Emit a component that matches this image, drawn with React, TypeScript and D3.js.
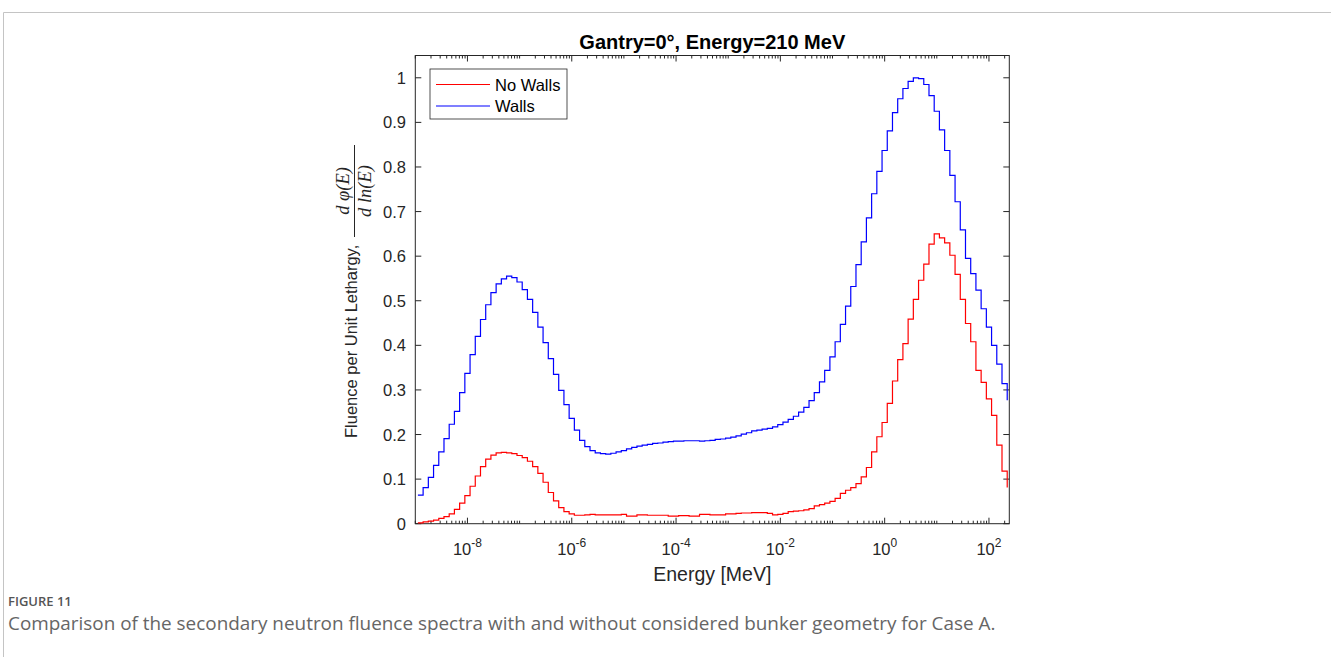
import React from "react";
import * as d3 from "d3";

// Bin edges: log10(E/MeV) starts at -8.95, 0.1 decade per bin (stairs plot)
const binStartLog = -8.95;
const binWidthLog = 0.1;

const noWalls = [
  0.002, 0.004, 0.006, 0.008, 0.012, 0.016, 0.022, 0.032, 0.046, 0.063,
  0.084, 0.107, 0.128, 0.145, 0.154, 0.159, 0.160, 0.159, 0.157, 0.153,
  0.148, 0.140, 0.128, 0.113, 0.093, 0.070, 0.051, 0.036, 0.027, 0.022,
  0.019, 0.019, 0.020, 0.021, 0.020, 0.020, 0.020, 0.020, 0.020, 0.021,
  0.017, 0.017, 0.020, 0.020, 0.019, 0.019, 0.019, 0.019, 0.017, 0.017,
  0.018, 0.018, 0.017, 0.017, 0.021, 0.021, 0.020, 0.020, 0.020, 0.022,
  0.022, 0.023, 0.024, 0.024, 0.025, 0.025, 0.025, 0.023, 0.020, 0.021,
  0.023, 0.027, 0.028, 0.029, 0.031, 0.034, 0.040, 0.043, 0.046, 0.050,
  0.057, 0.068, 0.075, 0.081, 0.090, 0.105, 0.126, 0.161, 0.195, 0.227,
  0.270, 0.320, 0.368, 0.404, 0.459, 0.503, 0.546, 0.582, 0.627, 0.650,
  0.641, 0.630, 0.602, 0.559, 0.503, 0.449, 0.408, 0.344, 0.317, 0.280,
  0.243, 0.176, 0.118, 0.081,
];

const walls = [
  0.064, 0.081, 0.104, 0.131, 0.161, 0.191, 0.223, 0.252, 0.294, 0.337,
  0.379, 0.420, 0.458, 0.491, 0.518, 0.538, 0.549, 0.555, 0.552, 0.542,
  0.525, 0.503, 0.474, 0.441, 0.406, 0.370, 0.335, 0.299, 0.267, 0.236,
  0.210, 0.187, 0.173, 0.164, 0.159, 0.157, 0.156, 0.158, 0.161, 0.164,
  0.168, 0.171, 0.174, 0.176, 0.178, 0.180, 0.181, 0.183, 0.184, 0.185,
  0.185, 0.186, 0.186, 0.186, 0.185, 0.186, 0.187, 0.189, 0.190, 0.192,
  0.194, 0.197, 0.201, 0.204, 0.208, 0.210, 0.212, 0.214, 0.217, 0.222,
  0.228, 0.234, 0.241, 0.250, 0.261, 0.276, 0.294, 0.318, 0.344, 0.374,
  0.408, 0.447, 0.488, 0.532, 0.581, 0.632, 0.686, 0.740, 0.790, 0.837,
  0.881, 0.922, 0.953, 0.976, 0.992, 1.000, 0.998, 0.985, 0.960, 0.925,
  0.883, 0.837, 0.781, 0.722, 0.659, 0.595, 0.561, 0.524, 0.482, 0.441,
  0.400, 0.358, 0.314, 0.277,
];

const yTicks = [0, 0.1, 0.2, 0.3, 0.4, 0.5, 0.6, 0.7, 0.8, 0.9, 1];
const yTickLabels = ["0", "0.1", "0.2", "0.3", "0.4", "0.5", "0.6", "0.7", "0.8", "0.9", "1"];
const xMajorExponents = [-8, -6, -4, -2, 0, 2];
const xDomainLog = [-9, 2.39];

const seriesNames = ["No Walls", "Walls"];
const seriesColors = ["#ff0000", "#0000ff"];

const title = "Gantry=0°, Energy=210 MeV";
const xLabel = "Energy [MeV]";
const yLabelText = "Fluence per Unit Lethargy,";
const figLabel = "FIGURE 11";
const caption =
  "Comparison of the secondary neutron fluence spectra with and without considered bunker geometry for Case A.";

const W = 1331;
const H = 657;
const L = 415.3, R = 1009.3, T = 55.5, B = 523.7;
const axisColor = "#262626";
const sans = "'Liberation Sans', Arial, Helvetica, sans-serif";
const serif = "'Liberation Serif', 'DejaVu Serif', serif";
const capFont = "'Open Sans', 'Noto Sans', sans-serif";

export default function App() {
  const x = d3
    .scaleLog()
    .domain([Math.pow(10, xDomainLog[0]), Math.pow(10, xDomainLog[1])])
    .range([L, R]);
  const y = d3.scaleLinear().domain([0, 1.05]).range([B, T]);

  const energies = noWalls.map((_, i) => Math.pow(10, binStartLog + binWidthLog * i));
  const line = d3
    .line<number>()
    .x((_, i) => x(energies[i]))
    .y((d) => y(d))
    .curve(d3.curveStepAfter);

  const series = [noWalls, walls];

  const minorTicks: number[] = [];
  for (let k = Math.floor(xDomainLog[0]); k <= Math.ceil(xDomainLog[1]); k++) {
    for (let m = 1; m <= 9; m++) {
      const v = m * Math.pow(10, k);
      const lv = Math.log10(v);
      if (lv < xDomainLog[0] - 1e-9 || lv > xDomainLog[1]) continue;
      if (m === 1 && xMajorExponents.includes(k)) continue;
      minorTicks.push(v);
    }
  }

  const yLabelBase = 357;
  const fracCenter = 191;

  return (
    <svg
      width={W}
      height={H}
      style={{ display: "block", position: "absolute", left: 0, top: 0 }}
    >
      <rect x={0} y={0} width={W} height={H} fill="#ffffff" />
      {/* outer frame */}
      <path d={`M3.5,12.5 H${W} M3.5,12.5 V${H}`} stroke="#c4c4c4" strokeWidth={1} fill="none" />

      {/* title */}
      <text x={(L + R) / 2} y={49} textAnchor="middle" fontFamily={sans} fontWeight="bold" fontSize={20} fill="#000">
        {title}
      </text>

      {/* axes box */}
      <rect x={L} y={T} width={R - L} height={B - T} fill="none" stroke={axisColor} strokeWidth={1} />

      {/* y ticks */}
      {yTicks.map((t, i) => (
        <g key={"yt" + i}>
          <line x1={L} x2={L + 6} y1={y(t)} y2={y(t)} stroke={axisColor} strokeWidth={1} />
          <line x1={R} x2={R - 6} y1={y(t)} y2={y(t)} stroke={axisColor} strokeWidth={1} />
          <text x={406} y={y(t) + 6} textAnchor="end" fontFamily={sans} fontSize={16.5} fill={axisColor}>
            {yTickLabels[i]}
          </text>
        </g>
      ))}

      {/* x minor ticks */}
      {minorTicks.map((v, i) => (
        <g key={"xm" + i}>
          <line x1={x(v)} x2={x(v)} y1={B} y2={B - 3} stroke={axisColor} strokeWidth={1} />
          <line x1={x(v)} x2={x(v)} y1={T} y2={T + 3} stroke={axisColor} strokeWidth={1} />
        </g>
      ))}
      {/* x major ticks */}
      {xMajorExponents.map((k) => {
        const px = x(Math.pow(10, k));
        return (
          <g key={"xM" + k}>
            <line x1={px} x2={px} y1={B} y2={B - 6} stroke={axisColor} strokeWidth={1} />
            <line x1={px} x2={px} y1={T} y2={T + 6} stroke={axisColor} strokeWidth={1} />
            <text x={px} y={555} textAnchor="middle" fontFamily={sans} fontSize={16.5} fill={axisColor}>
              10
              <tspan dy={-8} fontSize={12}>
                {String(k)}
              </tspan>
            </text>
          </g>
        );
      })}

      {/* data */}
      {series.map((s, si) => (
        <path key={"s" + si} d={line(s) || ""} fill="none" stroke={seriesColors[si]} strokeWidth={1.2} />
      ))}

      {/* x label */}
      <text x={(L + R) / 2} y={581} textAnchor="middle" fontFamily={sans} fontSize={19.5} fill={axisColor}>
        {xLabel}
      </text>

      {/* y label */}
      <g transform={`translate(${yLabelBase},0) rotate(-90)`}>
        <text x={-438} y={0} fontFamily={sans} fontSize={16.5} fill={axisColor}>
          {yLabelText}
        </text>
        <text x={-fracCenter} y={-8} textAnchor="middle" fontFamily={serif} fontStyle="italic" fontSize={18.5} fill={axisColor}>
          d φ(E)
        </text>
        <line x1={-fracCenter - 46} x2={-fracCenter + 46} y1={-2.5} y2={-2.5} stroke={axisColor} strokeWidth={1} />
        <text x={-fracCenter} y={13.5} textAnchor="middle" fontFamily={serif} fontStyle="italic" fontSize={18.5} fill={axisColor}>
          d ln(E)
        </text>
      </g>

      {/* legend */}
      <rect x={430} y={69} width={137} height={50} fill="#fff" stroke={axisColor} strokeWidth={0.8} />
      {seriesNames.map((n, i) => (
        <g key={"lg" + i}>
          <line x1={436} x2={490} y1={84.5 + i * 21.5} y2={84.5 + i * 21.5} stroke={seriesColors[i]} strokeWidth={1.2} />
          <text x={495} y={90.5 + i * 21.5} fontFamily={sans} fontSize={16.5} fill="#000">
            {n}
          </text>
        </g>
      ))}

      {/* caption */}
      <text x={8} y={606} fontFamily={capFont} fontWeight={600} fontSize={13} fill="#555">
        {figLabel}
      </text>
      <text x={8} y={630} fontFamily={capFont} fontSize={18.9} fill="#666">
        {caption}
      </text>
    </svg>
  );
}
